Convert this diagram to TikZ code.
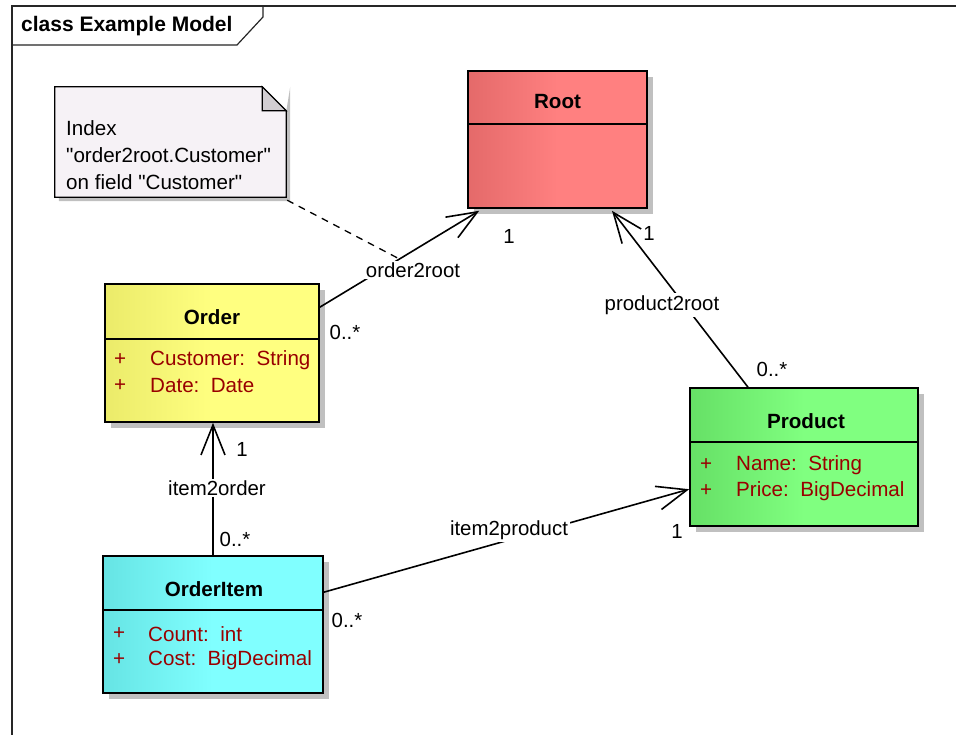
\documentclass[tikz,border=0pt]{standalone}
\usepackage{fontspec}
\setmainfont{Liberation Sans}
\usetikzlibrary{arrows.meta,shadows,calc}
\definecolor{attr}{HTML}{990000}
\definecolor{shadowgray}{HTML}{C0C0C0}
\definecolor{rootL}{HTML}{E46A6A}
\definecolor{rootR}{HTML}{FF8080}
\definecolor{orderL}{HTML}{EBEB6A}
\definecolor{orderR}{HTML}{FFFF80}
\definecolor{prodL}{HTML}{66E066}
\definecolor{prodR}{HTML}{80FF80}
\definecolor{itemL}{HTML}{66E4E4}
\definecolor{itemR}{HTML}{80FFFF}
\definecolor{notefill}{HTML}{F6F2F6}
\definecolor{foldfill}{HTML}{D2CED2}
\tikzset{
  txt/.style={font=\fontsize{20.4}{27}\selectfont, inner sep=0pt},
  btxt/.style={font=\fontsize{20.6}{27}\selectfont\bfseries, inner sep=0pt},
  atxt/.style={font=\fontsize{20.6}{27}\selectfont, inner sep=0pt, text=attr, anchor=west},
  umlbox/.style={draw=black, line width=1.6pt, inner sep=0pt,
    general shadow={fill=shadowgray, shadow xshift=6pt, shadow yshift=-6pt}},
  divider/.style={line width=1.6pt},
  assoc/.style={line width=1.6pt, -{Straight Barb[length=30pt,width=24pt,line width=1.6pt]}},
  lbl/.style={txt, fill=white, inner sep=2pt},
  mult/.style={txt},
}
\begin{document}
\begin{tikzpicture}[x=1pt,y=-1pt]
\useasboundingbox (0,0) rectangle (956,735);
\fill[white] (0,0) rectangle (956,735);

% frame
\draw[line width=1.4pt, draw=black!85] (956,6) -- (12,6) -- (12,735);
\draw[line width=1.2pt, draw=black!85] (12,45) -- (237,45) -- (263,17) -- (263,6);
\node[btxt, font=\fontsize{21}{27}\selectfont\bfseries, anchor=west] (frametitle) at (21,26) {class Example Model};

% note
\node[inner sep=0pt, minimum width=231pt, minimum height=110pt] (note) at (170.5,142) {};
\fill[shadowgray] ($(note.north east)+(4,0)$) -- ($(note.south east)+(4,4)$) -- ($(note.south west)+(4,4)$) -- ($(note.south west)+(4,0)$) -- ($(note.south east)+(0,0)$) -- ($(note.north east)+(0,25)$) -- cycle;
\draw[line width=1.3pt, fill=notefill] (note.north west) -- ($(note.north east)+(-24,0)$) -- ($(note.north east)+(0,24)$) -- (note.south east) -- (note.south west) -- cycle;
\draw[line width=1.1pt, fill=foldfill] ($(note.north east)+(-24,0)$) -- ($(note.north east)+(0,24)$) -- ($(note.north east)+(-24,24)$) -- cycle;
\node[txt, font=\fontsize{20.6}{27}\selectfont, anchor=west, align=left] (notetext) at (66,155) {Index\\\textquotedbl order2root.Customer\textquotedbl\\on field \textquotedbl Customer\textquotedbl};

% classes
\node[umlbox, minimum width=179pt, minimum height=137pt, left color=rootL, right color=rootR, middle color=rootR] (root) at (557.5,139.5) {};
\draw[divider] (root.west |- 0,124) -- (root.east |- 0,124);
\node[btxt] (roottitle) at (557.5,102) {Root};

\node[umlbox, minimum width=214pt, minimum height=138pt, left color=orderL, right color=orderR, middle color=orderR] (order) at (212,353) {};
\draw[divider] (order.west |- 0,339) -- (order.east |- 0,339);
\node[btxt] (ordertitle) at (212,317) {Order};
\node[atxt] (op1) at (114,360) {+};
\node[atxt] (oa1) at (150,360) {Customer:\ \ String};
\node[atxt] (op2) at (114,386) {+};
\node[atxt] (oa2) at (150,386) {Date:\ \ Date};

\node[umlbox, minimum width=228pt, minimum height=138pt, left color=prodL, right color=prodR, middle color=prodR] (product) at (804,457) {};
\draw[divider] (product.west |- 0,442) -- (product.east |- 0,442);
\node[btxt] (producttitle) at (806,421) {Product};
\node[atxt] (pp1) at (700,465) {+};
\node[atxt] (pa1) at (736,465) {Name:\ \ String};
\node[atxt] (pp2) at (700,491) {+};
\node[atxt] (pa2) at (736,491) {Price:\ \ BigDecimal};

\node[umlbox, minimum width=220pt, minimum height=137pt, left color=itemL, right color=itemR, middle color=itemR] (item) at (213,624.5) {};
\draw[divider] (item.west |- 0,610) -- (item.east |- 0,610);
\node[btxt] (itemtitle) at (214,589) {OrderItem};
\node[atxt] (ip1) at (113,634) {+};
\node[atxt] (ia1) at (148,634) {Count:\ \ int};
\node[atxt] (ip2) at (113,660) {+};
\node[atxt] (ia2) at (148,660) {Cost:\ \ BigDecimal};

% connectors
\coordinate (o2rS) at ([yshift=-24pt]order.north east);
\coordinate (o2rE) at ([xshift=12pt,yshift=-2pt]root.south west);
\coordinate (o2rM) at ($(o2rS)!0.5!(o2rE)$);
\draw[line width=1.3pt, dash pattern=on 7pt off 6pt] ([shift={(1,3)}]note.south east) -- (o2rM);
\draw[assoc] (o2rS) -- (o2rE);
\draw[assoc] ([xshift=-56pt]product.north) -- ([xshift=54.5pt,yshift=-2pt]root.south);
\draw[assoc] (item.north) -- (item.north |- order.south);
\draw[assoc] ([yshift=-37pt]item.north east) -- ([yshift=-102pt]product.north west);

% connector labels
\node[lbl] (l1) at (413,270) {order2root};
\node[lbl] (l2) at (662,305) {product2root};
\node[lbl] (l3) at (217,488) {item2order};
\node[lbl] (l4) at (509,530) {item2product};

% multiplicities
\node[mult] (m1) at (509,236) {1};
\node[mult] (m2) at (345,332) {0..*};
\node[mult] (m3) at (649,233) {1};
\node[mult] (m4) at (772,369) {0..*};
\node[mult] (m5) at (242,449) {1};
\node[mult] (m6) at (235,539) {0..*};
\node[mult] (m7) at (677,531) {1};
\node[mult] (m8) at (347,620) {0..*};
\end{tikzpicture}
\end{document}
